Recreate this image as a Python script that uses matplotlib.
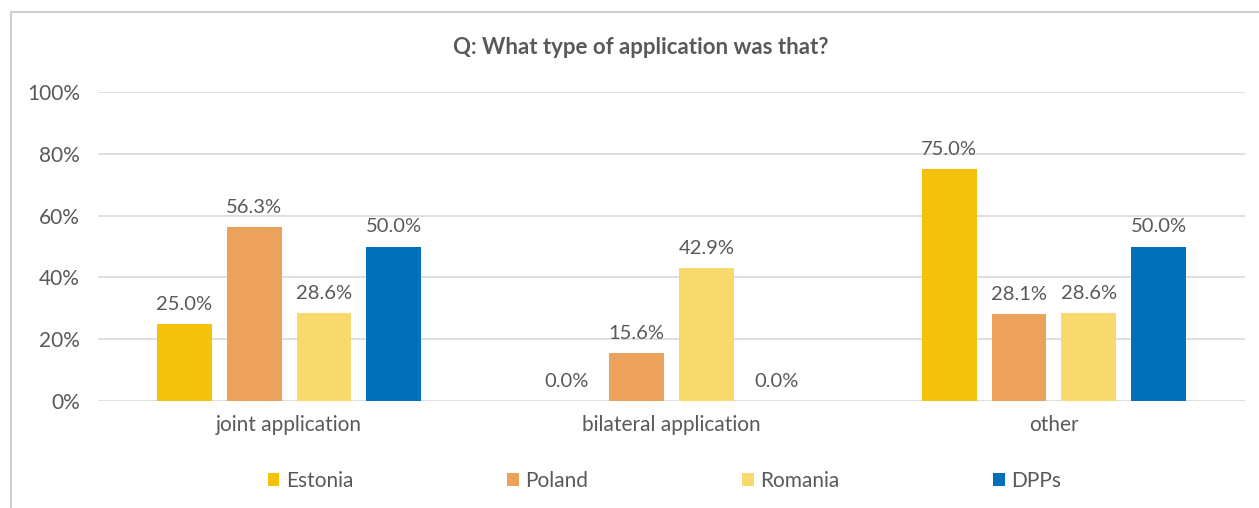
import matplotlib.pyplot as plt
import numpy as np
from matplotlib.patches import Rectangle

categories = ["joint application", "bilateral application", "other"]
series_names = ["Estonia", "Poland", "Romania", "DPPs"]
estonia = [25.0, 0.0, 75.0]
poland = [56.3, 15.6, 28.1]
romania = [28.6, 42.9, 28.6]
dpps = [50.0, 0.0, 50.0]
yticks = [0, 20, 40, 60, 80, 100]
title = "Q: What type of application was that?"

colors = ["#F5C20B", "#ECA25A", "#F8D96E", "#0070BA"]
text_color = "#595959"
grid_color = "#D9D9D9"

plt.rcParams["font.family"] = ["Lato", "DejaVu Sans"]

fig = plt.figure(figsize=(12.59, 5.08), dpi=100)
fig.patches.append(Rectangle((11 / 1259, -0.1), 1.2, 1.1 - 12 / 508,
                             transform=fig.transFigure, fill=False,
                             edgecolor="#D0D0D0", linewidth=1.5))

ax = fig.add_axes([98 / 1259, 1 - 401 / 508, (1245 - 98) / 1259, (401 - 92) / 508])

values = [estonia, poland, romania, dpps]
x = np.arange(len(categories))
width = 0.143
step = 0.1825
for i, (name, vals, c) in enumerate(zip(series_names, values, colors)):
    pos = x + (i - 1.5) * step
    bars = ax.bar(pos, vals, width=width, color=c, label=name, zorder=3)
    for b, v in zip(bars, vals):
        ax.annotate(f"{v:.1f}%", (b.get_x() + b.get_width() / 2, v),
                    xytext=(0, 8), textcoords="offset points",
                    ha="center", va="bottom", fontsize=14.5, color=text_color)

ax.set_xlim(-0.5, 2.5)
ax.set_ylim(0, 100)
ax.set_yticks(yticks)
ax.set_yticklabels([f"{t}%" for t in yticks])
ax.set_xticks(x)
ax.set_xticklabels(categories)
ax.tick_params(axis="both", length=0, labelsize=15, colors=text_color)
ax.tick_params(axis="y", pad=13)
ax.tick_params(axis="x", pad=10)
ax.grid(axis="y", color=grid_color, linewidth=1.2, zorder=0)
ax.set_axisbelow(True)
for s in ax.spines.values():
    s.set_visible(False)

fig.text(641 / 1259, 1 - 48 / 508, title, ha="center", va="center",
         fontsize=16, fontweight="bold", color=text_color)

leg = fig.legend(loc="center left", bbox_to_anchor=(268 / 1259, 1 - 481 / 508),
                 ncol=4, frameon=False, fontsize=15, labelcolor=text_color,
                 handlelength=0.55, handleheight=0.55, handletextpad=0.3,
                 columnspacing=7.4, borderaxespad=0, borderpad=0)

fig.savefig("out.png", dpi=100, facecolor="white")
